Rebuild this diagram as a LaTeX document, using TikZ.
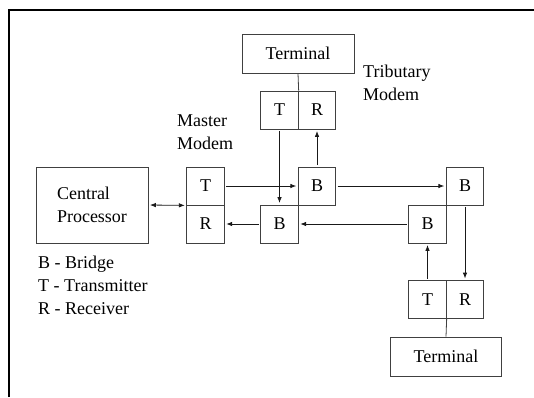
\documentclass[tikz,border=0pt]{standalone}
\usepackage{fontspec}
\setmainfont{Liberation Serif}
\usetikzlibrary{arrows.meta}
\tikzstyle{mybox}=[draw=black!75,line width=0.8pt,inner sep=0pt]
\tikzstyle{unit}=[mybox,minimum width=37.5pt,minimum height=38pt]
\tikzstyle{bigbox}=[mybox,minimum width=112pt,minimum height=39pt]
\tikzstyle{myarrow}=[draw=black!90,line width=0.8pt,>={Latex[length=6pt,width=4.5pt]},->,shorten >=1.5pt,shorten <=1.5pt]
\tikzstyle{mylabel}=[align=left,inner sep=0pt]

\begin{document}
\begin{tikzpicture}[x=1pt,y=-1pt,font=\fontsize{18}{23}\selectfont]
		\useasboundingbox (0,0) rectangle (534,397);
		\draw[line width=2.5pt] (9,397) -- (9,10) -- (534,10);

		% processor and master modem
		\node[mybox,minimum width=112pt,minimum height=76pt,align=left] (cp) at (92,205) {Central\\Processor};
		\node[unit] (mt) at (205.5,186) {T};
		\node[unit] (mr) at (205.5,224) {R};
		\node[mylabel,anchor=north west] (mlab) at (177,115) {Master\\Modem};

		% bridges
		\node[unit] (b1) at (317,186) {B};
		\node[unit] (b2) at (279.5,224) {B};
		\node[unit] (b3) at (465,186) {B};
		\node[unit] (b4) at (427.5,224) {B};

		% tributary modems
		\node[bigbox] (term1) at (298,53.5) {Terminal};
		\node[unit] (tt) at (279.5,110) {T};
		\node[unit] (tr) at (317,110) {R};
		\node[mylabel,anchor=north west] (tlab) at (363,65) {Tributary\\Modem};

		\node[unit] (bt) at (427.5,299.5) {T};
		\node[unit] (br) at (465,299.5) {R};
		\node[bigbox,minimum width=111pt] (term2) at (446,356.5) {Terminal};

		\draw[mybox] (term1.south) -- (tt.north east);
		\draw[mybox] (bt.south east) -- (term2.north);

		\draw[myarrow,<->] (cp.east) -- (mt.south west);
		\draw[myarrow] (mt.east) -- (b1.west);
		\draw[myarrow] (b1.east) -- (b3.west);
		\draw[myarrow] (tt.south) -- (b2.north);
		\draw[myarrow] (b1.north) -- (tr.south);
		\draw[myarrow] (b2.west) -- (mr.east);
		\draw[myarrow] (b4.west) -- (b2.east);
		\draw[myarrow] (b3.south) -- (br.north);
		\draw[myarrow] (bt.north) -- (b4.south);

		\node[mylabel,anchor=north west] (legend) at (38,256) {B - Bridge\\T - Transmitter\\R - Receiver};
	\end{tikzpicture}
\end{document}
